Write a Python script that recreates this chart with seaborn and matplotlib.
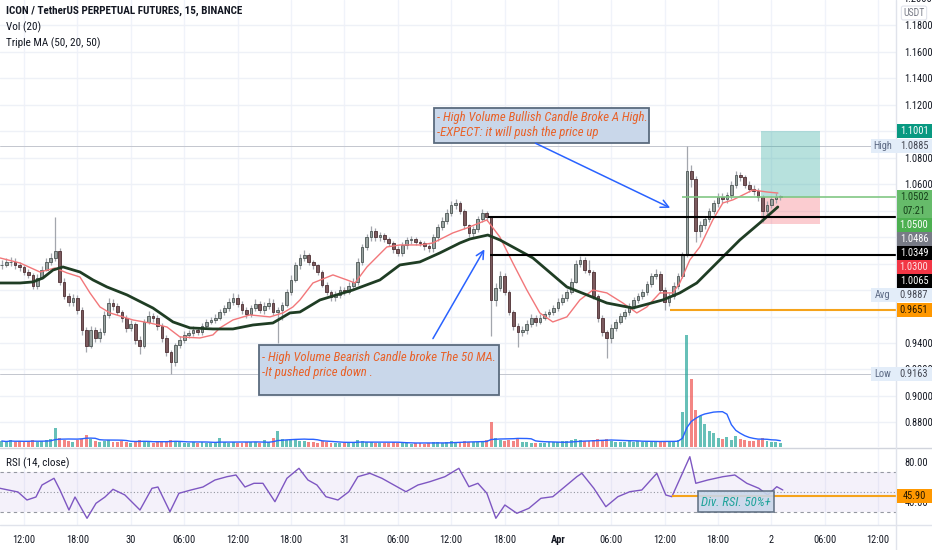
import numpy as np
import pandas as pd
import matplotlib
matplotlib.use('Agg')
import matplotlib.pyplot as plt
import seaborn as sns
from matplotlib import font_manager
from matplotlib.patches import Rectangle
from matplotlib.lines import Line2D

# ICX/USDT perp, 30 min candles from 29 Mar 09:30 (x axis = hours counted from 29 Mar 00:00)
first_open = 0.9985
close = [0.9992, 1.0008, 1.0015, 0.9985, 0.9970, 0.9939, 0.9916, 0.9833, 0.9894, 0.9954,
         1.0015, 1.0045, 1.0091, 0.9863, 0.9757, 0.9711, 0.9742, 0.9651, 0.9499, 0.9377,
         0.9499, 0.9438, 0.9484, 0.9613, 0.9704, 0.9681, 0.9636, 0.9590, 0.9514, 0.9544,
         0.9423, 0.9377, 0.9560, 0.9605, 0.9590, 0.9529, 0.9438, 0.9332, 0.9256, 0.9385,
         0.9423, 0.9461, 0.9476, 0.9499, 0.9484, 0.9529, 0.9560, 0.9575, 0.9590, 0.9636,
         0.9666, 0.9711, 0.9742, 0.9696, 0.9651, 0.9620, 0.9666, 0.9696, 0.9651, 0.9681,
         0.9704, 0.9636, 0.9648, 0.9689, 0.9787, 0.9879, 0.9985, 1.0045, 1.0061, 1.0015,
         0.9985, 0.9939, 0.9841, 0.9787, 0.9749, 0.9765, 0.9803, 0.9787, 0.9833, 0.9863,
         1.0015, 1.0121, 1.0197, 1.0243, 1.0197, 1.0212, 1.0182, 1.0152, 1.0106, 1.0083,
         1.0137, 1.0175, 1.0182, 1.0159, 1.0152, 1.0129, 1.0114, 1.0197, 1.0273, 1.0319,
         1.0380, 1.0440, 1.0456, 1.0395, 1.0289, 1.0228, 1.0258, 1.0334, 1.0380, 1.0349,
         0.9727, 0.9818, 0.9909, 0.9787, 0.9636, 0.9529, 0.9484, 0.9499, 0.9544, 0.9590,
         0.9560, 0.9590, 0.9620, 0.9636, 0.9666, 0.9711, 0.9742, 0.9787, 0.9863, 0.9999,
         1.0030, 0.9954, 0.9939, 0.9757, 0.9590, 0.9484, 0.9438, 0.9514, 0.9560, 0.9605,
         0.9636, 0.9681, 0.9727, 0.9757, 0.9787, 0.9848, 0.9909, 0.9924, 0.9803, 0.9711,
         0.9757, 0.9833, 0.9909, 1.0068, 1.0699, 1.0638, 1.0243, 1.0289, 1.0334, 1.0395,
         1.0456, 1.0501, 1.0486, 1.0517, 1.0592, 1.0668, 1.0653, 1.0592, 1.0562, 1.0547,
         1.0501, 1.0395, 1.0440, 1.0486, 1.0501, 1.0502]
high = [1.003, 1.004, 1.005, 1.004, 1.001, 0.999, 0.996, 0.993, 0.992, 0.998,
        1.004, 1.008, 1.035, 1.012, 0.989, 0.978, 0.977, 0.976, 0.967, 0.952,
        0.953, 0.952, 0.951, 0.964, 0.974, 0.973, 0.970, 0.965, 0.961, 0.957,
        0.956, 0.945, 0.958, 0.964, 0.963, 0.961, 0.955, 0.946, 0.935, 0.940,
        0.945, 0.949, 0.950, 0.953, 0.952, 0.955, 0.958, 0.960, 0.962, 0.966,
        0.969, 0.974, 0.978, 0.977, 0.972, 0.967, 0.969, 0.973, 0.972, 0.971,
        0.974, 0.973, 0.967, 0.971, 0.981, 0.991, 1.001, 1.007, 1.010, 1.008,
        1.003, 1.000, 0.995, 0.986, 0.980, 0.979, 0.983, 0.982, 0.986, 0.989,
        1.004, 1.015, 1.022, 1.028, 1.027, 1.024, 1.023, 1.020, 1.017, 1.013,
        1.016, 1.020, 1.021, 1.020, 1.018, 1.017, 1.015, 1.022, 1.030, 1.035,
        1.041, 1.047, 1.049, 1.047, 1.041, 1.030, 1.028, 1.036, 1.041, 1.040,
        1.036, 0.985, 0.994, 0.993, 0.980, 0.965, 0.955, 0.953, 0.957, 0.962,
        0.961, 0.962, 0.964, 0.966, 0.969, 0.974, 0.977, 0.981, 0.989, 1.003,
        1.006, 1.005, 1.003, 0.995, 0.977, 0.961, 0.950, 0.954, 0.958, 0.963,
        0.966, 0.970, 0.975, 0.978, 0.981, 0.987, 0.993, 0.9955, 0.994, 0.982,
        0.978, 0.986, 0.993, 1.009, 1.0885, 1.074, 1.066, 1.032, 1.036, 1.042,
        1.048, 1.053, 1.053, 1.054, 1.062, 1.070, 1.069, 1.067, 1.062, 1.059,
        1.057, 1.052, 1.047, 1.051, 1.053, 1.052]
low = [0.996, 0.997, 0.998, 0.996, 0.994, 0.991, 0.989, 0.981, 0.981, 0.988,
       0.994, 0.999, 1.002, 0.984, 0.973, 0.968, 0.968, 0.962, 0.946, 0.933,
       0.936, 0.941, 0.941, 0.946, 0.959, 0.965, 0.961, 0.956, 0.948, 0.949,
       0.939, 0.932, 0.936, 0.954, 0.956, 0.950, 0.941, 0.930, 0.9163, 0.923,
       0.936, 0.940, 0.944, 0.945, 0.946, 0.946, 0.951, 0.954, 0.955, 0.957,
       0.961, 0.964, 0.969, 0.967, 0.962, 0.959, 0.960, 0.964, 0.963, 0.962,
       0.966, 0.961, 0.940, 0.957, 0.967, 0.976, 0.986, 0.996, 1.002, 0.999,
       0.996, 0.991, 0.982, 0.976, 0.972, 0.972, 0.974, 0.976, 0.977, 0.981,
       0.984, 0.999, 1.010, 1.017, 1.017, 1.017, 1.016, 1.013, 1.008, 1.006,
       1.006, 1.011, 1.015, 1.014, 1.013, 1.010, 1.009, 1.009, 1.017, 1.025,
       1.030, 1.036, 1.041, 1.037, 1.026, 1.020, 1.020, 1.024, 1.031, 1.032,
       0.945, 0.968, 0.979, 0.976, 0.961, 0.950, 0.937, 0.945, 0.947, 0.952,
       0.953, 0.954, 0.957, 0.960, 0.961, 0.964, 0.969, 0.972, 0.977, 0.985,
       0.997, 0.993, 0.991, 0.973, 0.956, 0.945, 0.929, 0.940, 0.949, 0.954,
       0.958, 0.961, 0.966, 0.970, 0.973, 0.976, 0.982, 0.988, 0.978, 0.9651,
       0.968, 0.973, 0.981, 0.989, 1.005, 1.058, 1.016, 1.020, 1.026, 1.031,
       1.037, 1.043, 1.046, 1.046, 1.049, 1.057, 1.062, 1.057, 1.054, 1.052,
       1.047, 1.031, 1.037, 1.042, 1.046, 1.048]
volume = [6, 5, 7, 5, 6, 5, 6, 7, 5, 6,
          7, 8, 19, 9, 7, 6, 5, 7, 8, 12,
          8, 6, 5, 6, 7, 5, 5, 6, 5, 4,
          6, 7, 6, 5, 4, 5, 5, 6, 7, 6,
          5, 4, 4, 5, 4, 5, 4, 4, 5, 9,
          5, 4, 5, 4, 4, 5, 5, 5, 4, 7,
          5, 9, 16, 8, 7, 8, 7, 6, 6, 5,
          5, 4, 6, 5, 4, 4, 4, 4, 5, 5,
          7, 6, 5, 5, 4, 4, 4, 4, 5, 4,
          4, 4, 3, 4, 4, 3, 4, 5, 5, 4,
          5, 6, 5, 5, 6, 5, 5, 5, 6, 7,
          25, 9, 7, 6, 7, 6, 8, 5, 5, 4,
          4, 4, 4, 5, 5, 5, 6, 6, 7, 8,
          7, 6, 6, 7, 8, 7, 8, 6, 5, 5,
          5, 6, 5, 6, 5, 6, 6, 5, 6, 6,
          5, 6, 7, 35, 112, 68, 37, 31, 23, 16,
          14, 9, 8, 10, 7, 11, 8, 7, 6, 6,
          7, 9, 6, 5, 5, 4]

# moving averages (hours, price)
ma20_hours = [9.30, 11.55, 13.79, 15.48, 16.83, 18.29, 19.41, 20.54, 21.66, 24.24, 26.15, 28.06,
              29.52, 31.77, 33.23, 34.02, 35.48, 37.39, 39.64, 41.10, 42.22, 43.01, 44.47, 46.72,
              48.29, 49.19, 50.54, 52.78, 54.24, 56.49, 57.95, 60.20, 61.77, 64.02, 65.48, 66.94,
              68.51, 69.97, 71.43, 73.01, 74.47, 75.93, 77.50, 79.30, 80.87, 82.00, 83.46, 84.92,
              85.70, 86.83, 87.95, 89.41, 90.54, 91.66, 93.23, 93.91, 95.48, 96.72]
ma20 = [1.0042, 1.0004, 0.9936, 0.9966, 0.9929, 0.9898, 0.9778, 0.9672, 0.9627, 0.9574, 0.9551, 0.9521,
        0.9446, 0.9438, 0.9461, 0.9514, 0.9574, 0.9612, 0.9597, 0.9627, 0.9672, 0.9725, 0.9853, 0.9914,
        0.9876, 0.9853, 0.9974, 1.0125, 1.0140, 1.0140, 1.0155, 1.0231, 1.0268, 1.0329, 1.0200, 1.0004,
        0.9800, 0.9627, 0.9559, 0.9597, 0.9725, 0.9800, 0.9778, 0.9702, 0.9627, 0.9672, 0.9778, 0.9778,
        0.9853, 1.0027, 1.0125, 1.0329, 1.0457, 1.0480, 1.0532, 1.0555, 1.0540, 1.0532]
ma50_hours = [9.30, 11.55, 13.01, 14.13, 15.26, 16.38, 18.29, 19.75, 21.32, 23.57, 26.49, 28.74,
              30.65, 33.23, 35.48, 37.73, 39.97, 41.88, 43.01, 45.26, 48.96, 52.00, 54.24, 56.49,
              58.74, 60.99, 62.11, 64.13, 65.48, 69.19, 73.01, 75.26, 77.50, 80.42, 83.79, 85.70,
              87.61, 90.20, 92.45, 94.69, 96.72]
ma50 = [0.9853, 0.9853, 0.9861, 0.9891, 0.9951, 0.9974, 0.9936, 0.9876, 0.9823, 0.9763, 0.9664, 0.9559,
        0.9514, 0.9506, 0.9506, 0.9536, 0.9551, 0.9627, 0.9634, 0.9725, 0.9800, 0.9876, 0.9989, 1.0012,
        1.0080, 1.0155, 1.0185, 1.0215, 1.0178, 1.0042, 0.9823, 0.9763, 0.9702, 0.9664, 0.9725, 0.9778,
        0.9853, 1.0027, 1.0178, 1.0306, 1.0427]

rsi_hours = [9.30, 11.32, 12.33, 13.34, 14.02, 15.37, 16.04, 17.05, 17.73, 19.08, 20.09, 21.10, 22.00,
             23.34, 25.03, 26.38, 27.05, 28.40, 29.41, 30.76, 32.11, 33.46, 34.81, 35.82, 36.83, 37.84,
             38.85, 40.20, 41.55, 42.90, 43.91, 44.92, 45.93, 47.28, 48.51, 49.52, 50.87, 52.22, 53.57,
             54.92, 56.27, 57.61, 59.30, 60.87, 62.00, 63.01, 64.02, 65.03, 66.04, 67.39, 68.74, 70.09,
             71.43, 72.78, 74.13, 74.69, 76.04, 77.39, 78.74, 80.09, 81.43, 83.12, 84.13, 84.81, 85.82,
             86.83, 87.50, 88.85, 90.54, 91.88, 93.23, 94.58, 95.59, 96.60, 97.28]
rsi = [53.7, 50.0, 42.0, 45.0, 57.0, 63.7, 52.0, 32.0, 45.0, 23.7, 38.7, 45.0, 52.7,
       47.0, 32.0, 53.7, 55.0, 30.3, 48.7, 52.0, 55.0, 62.0, 65.3, 67.0, 55.0, 58.7,
       58.7, 40.3, 63.7, 73.7, 62.0, 57.0, 45.3, 42.0, 50.3, 65.3, 68.7, 63.7, 57.0,
       50.3, 57.0, 60.3, 65.3, 73.7, 55.3, 58.7, 48.7, 23.7, 37.0, 28.7, 33.7, 43.7,
       45.3, 55.3, 65.3, 68.7, 53.7, 35.3, 45.3, 50.3, 52.0, 68.7, 47.0, 45.3, 65.3,
       85.3, 58.7, 62.0, 65.3, 67.0, 58.7, 53.7, 47.0, 55.3, 52.0]

tick_hours = [12, 18, 24, 30, 36, 42, 48, 54, 60, 66, 72, 78, 84, 90, 96, 102, 108]
tick_labels = ['12:00', '18:00', '30', '06:00', '12:00', '18:00', '31', '06:00', '12:00',
               '18:00', 'Apr', '06:00', '12:00', '18:00', '2', '06:00', '12:00']
price_ticks = [1.18, 1.16, 1.14, 1.12, 1.10, 1.08, 1.06, 1.04, 1.02, 1.00, 0.98, 0.96, 0.94, 0.92, 0.90, 0.88]
price_tick_shown = [True, True, True, True, False, True, True, False, False, False, False, False,
                    True, True, True, True]

# drawings on the chart
level_high_break = 1.0349
level_low_break = 1.0065
support_level = 0.9651
entry_price = 1.0502
target_price = 1.1001
stop_price = 1.0300
session_high = 1.0885
session_low = 0.9163
rsi_level = 45.90
countdown = '07:21'
# right scale tags: price, text, background, text colour
scale_tags = [(1.0502, '1.0502\n' + countdown, '#66bb6a', '#16401a'),
              (1.0500, '1.0500', '#4caf50', 'white'),
              (1.0486, '1.0486', '#787b86', 'white'),
              (1.0349, '1.0349', '#000000', 'white'),
              (1.0300, '1.0300', '#f23645', '#ffe3e6'),
              (1.0065, '1.0065', '#000000', 'white'),
              (0.9887, '0.9887', '#e3edf9', '#434651'),
              (0.9651, '0.9651', '#ff9800', '#231500')]

note_bull = '- High Volume Bullish Candle Broke A High.\n-EXPECT: it will push the price up'
note_bear = '- High Volume Bearish Candle broke The 50 MA.\n-It pushed price down .'
note_rsi = 'Div. RSI. 50%+'

sns.set_theme(style='white')
avail = {f.name for f in font_manager.fontManager.ttflist}
narrow = next((f for f in ['Liberation Sans Narrow', 'Roboto Condensed', 'Open Sans Condensed',
                           'Liberation Sans'] if f in avail), 'DejaVu Sans')
plt.rcParams['font.family'] = [narrow, 'DejaVu Sans']

W, H = 932, 550
PANE_R, MAIN_B, RSI_T, RSI_B = 896, 447, 448, 525
X0, X1 = 9.3, 110.0
P_TOP, P_BOT = 1.1989, 0.8615
R_TOP, R_BOT = 94, 17
TXT = '#131722'

fig = plt.figure(figsize=(W / 100, H / 100), dpi=100)
ax = fig.add_axes([0, 1 - MAIN_B / H, PANE_R / W, MAIN_B / H])
rax = fig.add_axes([0, 1 - RSI_B / H, PANE_R / W, (RSI_B - RSI_T) / H])
# volume overlay (made first so the price scale can go back to the right)
vax = ax.twinx()

df = pd.DataFrame({'close': close, 'high': high, 'low': low, 'volume': volume})
df['hour'] = np.arange(len(df)) * 0.5 + 9.5
df['open'] = df['close'].shift(1).fillna(first_open)
df['up'] = df['close'] >= df['open']
df['vol_ma'] = df['volume'].rolling(10, min_periods=1).mean()

for a in (ax, rax):
    a.set_xlim(X0, X1)
    for s in a.spines.values():
        s.set_visible(False)
    a.set_xticks(tick_hours)
    a.grid(axis='x', color='#f0f3fa', lw=1)
    a.set_axisbelow(True)

ax.set_ylim(P_BOT, P_TOP)
ax.set_yticks(price_ticks)
ax.set_yticklabels([f'{p:.4f}' if s else '' for p, s in zip(price_ticks, price_tick_shown)])
ax.tick_params(axis='y', left=False, right=False, labelleft=False, labelright=True,
               length=0, pad=6, labelsize=7.5, labelcolor=TXT)
ax.tick_params(axis='x', length=0, labelbottom=False)
ax.grid(axis='y', color='#eef1f7', lw=1)

vax.set_xlim(X0, X1)
vax.set_ylim(0, MAIN_B)
vax.axis('off')
vcol = np.where(df['up'], '#26a69a', '#ef5350')
vax.bar(df['hour'], df['volume'], width=0.33, color=vcol, alpha=0.7, lw=0)
sns.lineplot(x=df['hour'], y=df['vol_ma'], ax=vax, color='#2962ff', lw=1, estimator=None)

# candles
body_lo = np.minimum(df['open'], df['close'])
body_h = np.maximum((df['close'] - df['open']).abs(), 0.0007)
ax.vlines(df['hour'], df['low'], df['high'], color='#a3a6ad', lw=0.9, zorder=2)
ax.bar(df['hour'], body_h, bottom=body_lo, width=0.3,
       color=np.where(df['up'], '#9aa3a1', '#7b5a5e'),
       edgecolor=np.where(df['up'], '#4d5755', '#4e3034'), lw=0.6, zorder=3)

sns.lineplot(x=ma20_hours, y=ma20, ax=ax, color='#f2777a', lw=1, estimator=None, sort=False, zorder=4)
sns.lineplot(x=ma50_hours, y=ma50, ax=ax, color='#1f3d24', lw=2, estimator=None, sort=False, zorder=4)

# levels and drawings
ax.axhline(session_high, color='#c3c6ce', lw=0.7, zorder=1)
ax.axhline(session_low, color='#c3c6ce', lw=0.7, zorder=1)
ax.hlines(level_high_break, 64.1, X1, color='black', lw=1.5, zorder=5)
ax.hlines(level_low_break, 64.4, X1, color='black', lw=1.5, zorder=5)
ax.hlines(entry_price, 86.0, X1, color='#81c784', lw=1.2, zorder=5)
ax.hlines(support_level, 84.6, X1, color='#f5a31a', lw=1.5, zorder=5)
ax.add_patch(Rectangle((94.8, entry_price), 6.7, target_price - entry_price,
                       color='#26a69a', alpha=0.33, lw=0, zorder=1))
ax.add_patch(Rectangle((94.8, stop_price), 6.7, entry_price - stop_price,
                       color='#f23645', alpha=0.25, lw=0, zorder=1))

ax.add_patch(Rectangle((58.1, 1.0910), 24.1, 0.0264, facecolor='#c9d7ea', edgecolor='#5b6b7e',
                       lw=1.3, zorder=6))
ax.text(58.45, 1.1045, note_bull, color='#e8622a', style='italic', fontsize=9.2,
        va='center', ha='left', linespacing=1.25, zorder=7)
ax.add_patch(Rectangle((38.4, 0.9008), 27.0, 0.0377, facecolor='#c9d7ea', edgecolor='#5b6b7e',
                       lw=1.3, zorder=6))
ax.text(38.75, 0.9235, note_bear, color='#e8622a', style='italic', fontsize=9.2,
        va='center', ha='left', linespacing=1.25, zorder=7)
arrow = dict(arrowstyle='->', color='#2962ff', lw=1.1, mutation_scale=14)
ax.annotate('', xy=(84.9, 1.0411), xytext=(69.2, 1.0917), arrowprops=arrow, zorder=7)
ax.annotate('', xy=(63.9, 1.0125), xytext=(57.8, 0.9415), arrowprops=arrow, zorder=7)

# RSI pane
rax.set_ylim(R_BOT, R_TOP)
rax.axhspan(30, 70, color='#7e57c2', alpha=0.08, lw=0)
for lvl, ls in ((70, (0, (3, 3))), (50, (0, (1, 2))), (30, (0, (3, 3)))):
    rax.axhline(lvl, color='#9598a1', lw=0.8, ls=ls)
sns.lineplot(x=rsi_hours, y=rsi, ax=rax, color='#7e57c2', lw=1, estimator=None, sort=False)
rax.hlines(rsi_level, 84.8, X1, color='#f5a31a', lw=1.5, zorder=5)
rax.add_patch(Rectangle((87.8, 30), 8.5, 21, facecolor='#c9d7ea', edgecolor='#5b6b7e',
                        lw=1.2, alpha=0.9, zorder=6))
rax.text(92.05, 40, note_rsi, color='#1fa39a', style='italic', fontsize=9.2,
         ha='center', va='center', zorder=7)
rax.set_yticks([80, 40])
rax.set_yticklabels(['80.00', '40.00'])
rax.tick_params(axis='y', left=False, right=False, labelleft=False, labelright=True,
                length=0, pad=6, labelsize=7.5, labelcolor=TXT)
rax.set_xticks(tick_hours)
rax.set_xticklabels(tick_labels)
rax.tick_params(axis='x', length=0, pad=7, labelsize=7.5, labelcolor=TXT)
for lab in rax.get_xticklabels():
    if lab.get_text() == 'Apr':
        lab.set_fontweight('bold')
for a in (ax, rax, vax):
    a.set_xlabel('')
    a.set_ylabel('')


def fx(px):
    return px / W


def fy(py):
    return 1 - py / H


def price_px(p):
    return (P_TOP - p) / (P_TOP - P_BOT) * MAIN_B


def tag(py_top, h, text, bg, fg, x0=897):
    fig.add_artist(Rectangle((fx(x0), fy(py_top + h)), fx(W - x0), h / H,
                             transform=fig.transFigure, color=bg, lw=0, zorder=8))
    fig.text(fx(914), fy(py_top + h / 2), text, color=fg, fontsize=7.5, ha='center',
             va='center', linespacing=1.45, zorder=9)


# pane borders
fig.add_artist(Line2D([0, 1], [fy(MAIN_B + 0.5)] * 2, color='#d1d4dc', lw=1))
fig.add_artist(Line2D([0, 1], [fy(RSI_B)] * 2, color='#e0e3eb', lw=1))
fig.add_artist(Line2D([fx(PANE_R)] * 2, [0, 1], color='#e0e3eb', lw=1))

# scale tags
tag(price_px(target_price) - 7, 14, f'{target_price:.4f}', '#089981', 'white')
for p, lbl, word in ((session_high, f'{session_high:.4f}', 'High'),
                     (session_low, f'{session_low:.4f}', 'Low')):
    y = price_px(p)
    tag(y - 7, 14, lbl, '#e3edf9', '#434651', x0=871)
    fig.text(fx(883), fy(y), word, color='#5d6a84', fontsize=7.5, ha='center', va='center', zorder=9)
prev = -1e9
for p, lbl, bg, fg in scale_tags:
    h = 28 if '\n' in lbl else 14
    top = max(price_px(p) - 7, prev)
    if lbl.startswith('0.9887'):
        tag(top, h, lbl, bg, fg, x0=871)
        fig.text(fx(883), fy(top + 7), 'Avg', color='#5d6a84', fontsize=7.5, ha='center',
                 va='center', zorder=9)
    else:
        tag(top, h, lbl, bg, fg)
    prev = top + h
ry = RSI_T + (R_TOP - rsi_level) / (R_TOP - R_BOT) * (RSI_B - RSI_T)
tag(ry - 7, 14, f'{rsi_level:.2f}', '#ff9800', '#231500')
fig.text(fx(903), fy(-1), '1.2000', color=TXT, fontsize=7.5, ha='left', va='center')
fig.text(fx(914), fy(13), 'USDT', color='#787b86', fontsize=7, ha='center', va='center',
         bbox=dict(boxstyle='round,pad=0.2', fc='white', ec='#e0e3eb', lw=0.8))

# legend texts
fig.text(fx(6), fy(11), 'ICON / TetherUS PERPETUAL FUTURES, 15, BINANCE', color=TXT,
         fontsize=8, fontweight='bold', va='center')
fig.text(fx(6), fy(27), 'Vol (20)', color=TXT, fontsize=8, va='center')
fig.text(fx(6), fy(43), 'Triple MA (50, 20, 50)', color=TXT, fontsize=8, va='center')
fig.text(fx(6), fy(463), 'RSI (14, close)', color=TXT, fontsize=8, va='center')

fig.savefig('out.png', dpi=100, facecolor='white')
